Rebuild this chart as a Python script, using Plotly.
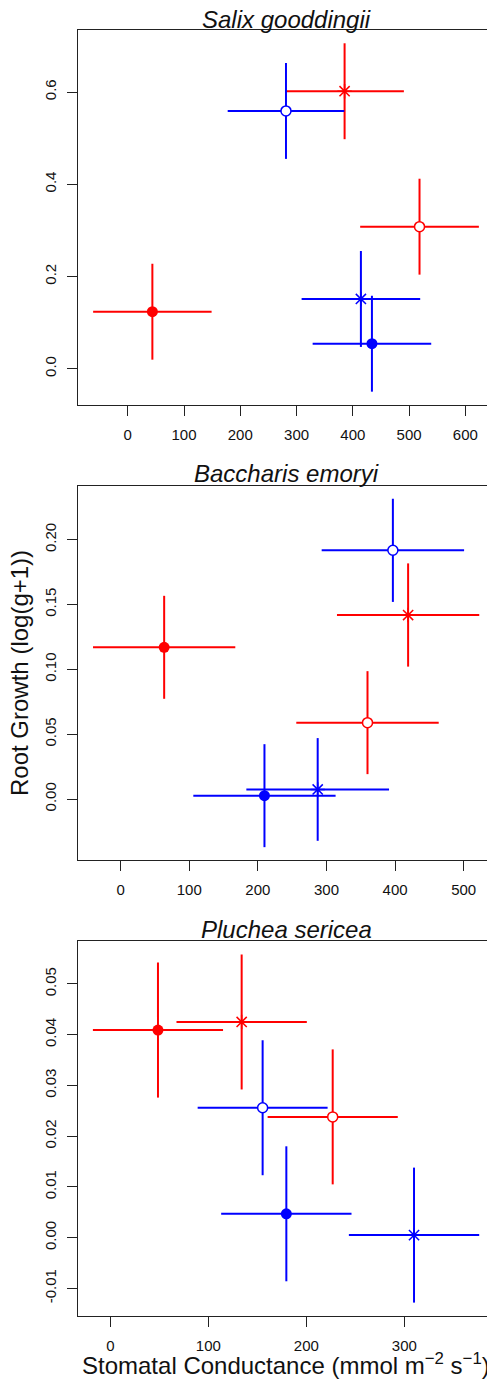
import plotly.graph_objects as go

# ---------------- data ----------------
species = ["Salix gooddingii", "Baccharis emoryi", "Pluchea sericea"]

# group order: red filled, red open, red star, blue filled, blue open, blue star
group_colors = ["#FF0000", "#FF0000", "#FF0000", "#0000FF", "#0000FF", "#0000FF"]
group_kind = ["filled", "open", "star", "filled", "open", "star"]

salix_gs = [43.7, 518.6, 385.4, 434.0, 281.2, 414.4]
salix_gs_err = [105.3, 105.5, 105.4, 105.4, 103.6, 105.4]
salix_rg = [0.1236, 0.308, 0.6017, 0.0542, 0.559, 0.1512]
salix_rg_err = [0.104, 0.104, 0.104, 0.104, 0.104, 0.104]

bacc_gs = [63.4, 359.8, 419.0, 209.6, 396.8, 287.2]
bacc_gs_err = [103.7, 103.8, 103.7, 103.7, 103.8, 104.0]
bacc_rg = [0.117, 0.0589, 0.1419, 0.0026, 0.1918, 0.0074]
bacc_rg_err = [0.0397, 0.0397, 0.0398, 0.0397, 0.0398, 0.0396]

pluch_gs = [48.6, 226.9, 134.0, 179.6, 155.4, 309.9]
pluch_gs_err = [66.4, 66.4, 66.5, 66.5, 66.3, 66.5]
pluch_rg = [0.0409, 0.0238, 0.0425, 0.0047, 0.0256, 0.0005]
pluch_rg_err = [0.0133, 0.0133, 0.0133, 0.0133, 0.0133, 0.0133]

x_ticks = [[0, 100, 200, 300, 400, 500, 600], [0, 100, 200, 300, 400, 500], [0, 100, 200, 300]]
y_tickvals = [[0.0, 0.2, 0.4, 0.6],
              [0.0, 0.05, 0.10, 0.15, 0.20],
              [-0.01, 0.0, 0.01, 0.02, 0.03, 0.04, 0.05]]
y_ticktext = [["0.0", "0.2", "0.4", "0.6"],
              ["0.00", "0.05", "0.10", "0.15", "0.20"],
              ["-0.01", "0.00", "0.01", "0.02", "0.03", "0.04", "0.05"]]
x_ranges = [[-88.5, 651.0], [-62.2, 544.2], [-33.0, 391.5]]
y_ranges = [[-0.0787, 0.7345], [-0.047, 0.2416], [-0.01544, 0.0584]]

panels = [
    (salix_gs, salix_gs_err, salix_rg, salix_rg_err),
    (bacc_gs, bacc_gs_err, bacc_rg, bacc_rg_err),
    (pluch_gs, pluch_gs_err, pluch_rg, pluch_rg_err),
]

# ---------------- layout geometry ----------------
# the page body has an 8px margin, so the figure is 8px smaller and all
# page-pixel positions are shifted by OFF
OFF = 8
W, H = 495 - OFF, 1382 - OFF
FONT = "Liberation Sans, Arial, Helvetica, sans-serif"


def px_x(v):
    return (v - OFF) / W


def px_y(v):
    return 1 - (v - OFF) / H


x_dom = [px_x(78), px_x(494)]
box_px = [(30, 405), (485.7, 860), (941.3, 1316)]  # top, bottom (page pixels)
y_doms = [[px_y(b), px_y(t)] for t, b in box_px]

fig = go.Figure()

for p, (gs, gse, rg, rge) in enumerate(panels):
    xa = "x" if p == 0 else f"x{p+1}"
    ya = "y" if p == 0 else f"y{p+1}"
    for g in range(6):
        col = group_colors[g]
        kind = group_kind[g]
        if kind == "filled":
            marker = dict(symbol="circle", size=11, color=col, line=dict(width=0))
        elif kind == "open":
            marker = dict(symbol="circle", size=10, color="white", line=dict(width=1.5, color=col))
        else:
            marker = dict(symbol="asterisk-open", size=12, color=col, line=dict(width=1.5, color=col))
        fig.add_trace(go.Scatter(
            x=[gs[g]], y=[rg[g]], mode="markers", xaxis=xa, yaxis=ya,
            marker=marker, showlegend=False,
            error_x=dict(type="data", array=[gse[g]], width=0, thickness=2, color=col),
            error_y=dict(type="data", array=[rge[g]], width=0, thickness=2, color=col),
        ))

axis_common = dict(showgrid=False, zeroline=False, showline=True, mirror=True,
                   linecolor="#222222", linewidth=1.3, ticks="outside", ticklen=10,
                   tickwidth=1.3, tickcolor="#222222",
                   tickfont=dict(family=FONT, size=15, color="#111111"))

layout = dict(width=W, height=H, margin=dict(l=0, r=0, t=0, b=0),
              plot_bgcolor="white", paper_bgcolor="white", showlegend=False)

for p in range(3):
    xk = "xaxis" if p == 0 else f"xaxis{p+1}"
    yk = "yaxis" if p == 0 else f"yaxis{p+1}"
    ya = "y" if p == 0 else f"y{p+1}"
    xa = "x" if p == 0 else f"x{p+1}"
    layout[xk] = dict(axis_common, domain=x_dom, anchor=ya, range=x_ranges[p],
                      tickvals=x_ticks[p], ticktext=[str(v) for v in x_ticks[p]],
                      ticklabelstandoff=6)
    layout[yk] = dict(axis_common, domain=y_doms[p], anchor=xa, range=y_ranges[p],
                      tickvals=y_tickvals[p], ticktext=y_ticktext[p], tickangle=-90,
                      ticklabelstandoff=5)

fig.update_layout(**layout)

title_centers = [19.0, 473.3, 929.3]
for p in range(3):
    fig.add_annotation(text=f"<i>{species[p]}</i>", xref="paper", yref="paper",
                       x=px_x((78 + 494) / 2), y=px_y(title_centers[p]),
                       xanchor="center", yanchor="middle", showarrow=False,
                       font=dict(family=FONT, size=24, color="#111111"))

fig.add_annotation(text="Root Growth (log(g+1))", xref="paper", yref="paper",
                   x=px_x(19), y=px_y(673), xanchor="center", yanchor="middle",
                   textangle=-90, showarrow=False,
                   font=dict(family=FONT, size=24, color="#111111"))

fig.add_annotation(text="Stomatal Conductance (mmol m<sup>\u22122</sup> s<sup>\u22121</sup>)",
                   xref="paper", yref="paper",
                   x=px_x(286), y=px_y(1364), xanchor="center", yanchor="middle",
                   showarrow=False,
                   font=dict(family=FONT, size=24, color="#111111"))

fig.write_html("out.html")
